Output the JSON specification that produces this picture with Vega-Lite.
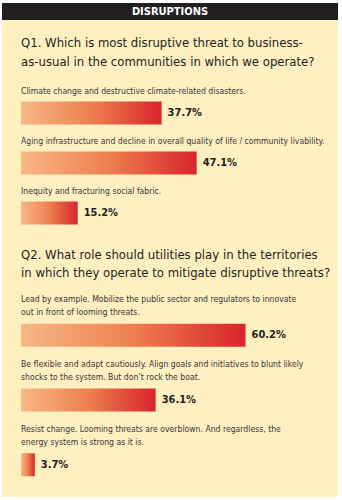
{
  "$schema": "https://vega.github.io/schema/vega-lite/v6.json",
  "background": "white",
  "padding": {"left": 2, "top": 3, "right": 4, "bottom": 3},
  "spacing": 0,
  "config": {
    "view": {"fill": "#fff0c2", "stroke": null},
    "concat": {"spacing": 0},
    "font": "DejaVu Sans Condensed, sans-serif"
  },
  "datasets": {
    "q1": [
      {"key": "q", "kind": "question", "label": "Q1. Which is most disruptive threat to business-\nas-usual in the communities in which we operate?"},
      {"key": "a1", "kind": "answer", "label": "Climate change and destructive climate-related disasters.", "share": 0.377},
      {"key": "a2", "kind": "answer", "label": "Aging infrastructure and decline in overall quality of life / community livability.", "share": 0.471},
      {"key": "a3", "kind": "answer", "label": "Inequity and fracturing social fabric.", "share": 0.152}
    ],
    "q2": [
      {"key": "q", "kind": "question", "label": "Q2. What role should utilities play in the territories\nin which they operate to mitigate disruptive threats?"},
      {"key": "a4", "kind": "answer", "label": "Lead by example. Mobilize the public sector and regulators to innovate\nout in front of looming threats.", "share": 0.602},
      {"key": "a5", "kind": "answer", "label": "Be flexible and adapt cautiously. Align goals and initiatives to blunt likely\nshocks to the system. But don’t rock the boat.", "share": 0.361},
      {"key": "a6", "kind": "answer", "label": "Resist change. Looming threats are overblown. And regardless, the\nenergy system is strong as it is.", "share": 0.037}
    ]
  },
  "vconcat": [
    {
      "width": 336,
      "height": 17,
      "view": {"fill": "#231f20", "stroke": null},
      "data": {"values": [{"title": "DISRUPTIONS"}]},
      "mark": {"type": "text", "color": "white", "fontWeight": "bold", "fontSize": 11, "baseline": "middle", "align": "center"},
      "encoding": {"text": {"field": "title"}}
    },
    {
      "width": 336,
      "height": 218,
      "data": {"name": "q1"},
      "encoding": {
        "y": {"field": "key", "type": "nominal", "axis": null,
              "scale": {"domain": ["q", "a1", "a2", "a3"], "paddingInner": 0, "paddingOuter": 0.18, "align": 1}}
      },
      "layer": [
        {
          "transform": [{"filter": "datum.kind == 'question'"}],
          "mark": {"type": "text", "align": "left", "baseline": "middle", "fontSize": 13, "lineHeight": 18.5, "dy": -20, "lineBreak": "\n", "color": "#231f20"},
          "encoding": {
            "x": {"datum": 0, "type": "quantitative", "scale": {"domain": [-0.051, 0.85]}, "axis": null},
            "text": {"field": "label"}
          }
        },
        {
          "transform": [{"filter": "datum.kind == 'answer'"}],
          "mark": {"type": "bar", "size": 23, "color": {"gradient": "linear", "x1": 0, "y1": 0, "x2": 1, "y2": 0,
            "stops": [{"offset": 0, "color": "#f7b886"}, {"offset": 0.5, "color": "#ee7f4f"}, {"offset": 1, "color": "#d8242a"}]}},
          "encoding": {
            "x": {"field": "share", "type": "quantitative", "scale": {"domain": [-0.051, 0.85]}, "axis": null},
            "x2": {"datum": 0}
          }
        },
        {
          "transform": [{"filter": "datum.kind == 'answer'"}],
          "mark": {"type": "text", "align": "left", "baseline": "middle", "fontSize": 8.6, "lineHeight": 13, "dy": -22, "lineBreak": "\n", "color": "#3a3536"},
          "encoding": {
            "x": {"datum": 0, "type": "quantitative", "scale": {"domain": [-0.051, 0.85]}, "axis": null},
            "text": {"field": "label"}
          }
        },
        {
          "transform": [{"filter": "datum.kind == 'answer'"}],
          "mark": {"type": "text", "align": "left", "baseline": "middle", "fontSize": 11, "fontWeight": "bold", "dx": 6, "color": "#231f20"},
          "encoding": {
            "x": {"field": "share", "type": "quantitative", "scale": {"domain": [-0.051, 0.85]}, "axis": null},
            "text": {"field": "share", "type": "quantitative", "format": ".1%"}
          }
        }
      ]
    },
    {
      "width": 336,
      "height": 259,
      "data": {"name": "q2"},
      "encoding": {
        "y": {"field": "key", "type": "nominal", "axis": null,
              "scale": {"domain": ["q", "a4", "a5", "a6"], "paddingInner": 0, "paddingOuter": 0}}
      },
      "layer": [
        {
          "transform": [{"filter": "datum.kind == 'question'"}],
          "mark": {"type": "text", "align": "left", "baseline": "middle", "fontSize": 13, "lineHeight": 18.5, "dy": -15.5, "lineBreak": "\n", "color": "#231f20"},
          "encoding": {
            "x": {"datum": 0, "type": "quantitative", "scale": {"domain": [-0.051, 0.85]}, "axis": null},
            "text": {"field": "label"}
          }
        },
        {
          "transform": [{"filter": "datum.kind == 'answer'"}],
          "mark": {"type": "bar", "size": 23, "color": {"gradient": "linear", "x1": 0, "y1": 0, "x2": 1, "y2": 0,
            "stops": [{"offset": 0, "color": "#f7b886"}, {"offset": 0.5, "color": "#ee7f4f"}, {"offset": 1, "color": "#d8242a"}]}},
          "encoding": {
            "x": {"field": "share", "type": "quantitative", "scale": {"domain": [-0.051, 0.85]}, "axis": null},
            "x2": {"datum": 0}
          }
        },
        {
          "transform": [{"filter": "datum.kind == 'answer'"}],
          "mark": {"type": "text", "align": "left", "baseline": "middle", "fontSize": 8.6, "lineHeight": 13, "dy": -36, "lineBreak": "\n", "color": "#3a3536"},
          "encoding": {
            "x": {"datum": 0, "type": "quantitative", "scale": {"domain": [-0.051, 0.85]}, "axis": null},
            "text": {"field": "label"}
          }
        },
        {
          "transform": [{"filter": "datum.kind == 'answer'"}],
          "mark": {"type": "text", "align": "left", "baseline": "middle", "fontSize": 11, "fontWeight": "bold", "dx": 6, "color": "#231f20"},
          "encoding": {
            "x": {"field": "share", "type": "quantitative", "scale": {"domain": [-0.051, 0.85]}, "axis": null},
            "text": {"field": "share", "type": "quantitative", "format": ".1%"}
          }
        }
      ]
    }
  ]
}
